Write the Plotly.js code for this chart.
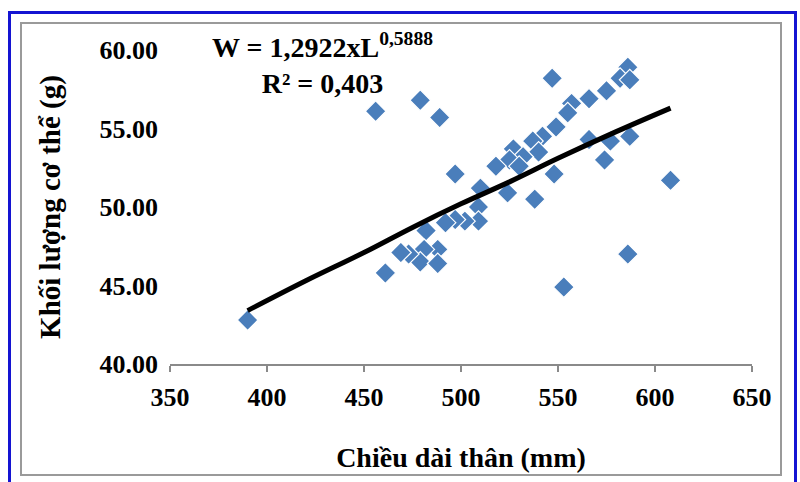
<!DOCTYPE html>
<html>
<head>
<meta charset="utf-8">
<script src="https://cdn.plot.ly/plotly-3.0.1.min.js"></script>
<style>
  html, body { margin: 0; padding: 0; background: #ffffff; }
  body { width: 800px; height: 482px; position: relative; overflow: hidden; }
  #blueframe { position: absolute; left: 8px; top: 11px; width: 789px; height: 480px; border: 3px solid #1414d2; box-sizing: border-box; z-index: 0; }
  #grayframe { position: absolute; left: 20px; top: 22px; width: 762px; height: 454px; border: 2px solid #9a9a9a; box-sizing: border-box; z-index: 0; }
  #chart { position: absolute; left: 0; top: 0; width: 800px; height: 482px; z-index: 1; }
</style>
</head>
<body>
<div id="blueframe"></div>
<div id="grayframe"></div>
<div id="chart"></div>
<script>
// Body length (mm) and body weight (g)
var lengthMm = [390, 456, 479, 489, 497, 547, 586, 582, 587, 575, 566, 557, 555, 549, 542, 537, 527, 540, 532, 525, 518, 530,
                566, 577, 587, 574, 548, 608, 538, 524, 510, 509, 509, 502, 497, 492, 482, 488, 481, 479, 488, 473, 469, 461, 586, 553];
var weightG  = [42.8, 56.1, 56.8, 55.7, 52.1, 58.2, 58.9, 58.2, 58.1, 57.4, 56.9, 56.6, 56.0, 55.1, 54.5, 54.2, 53.7, 53.5, 53.2, 53.0, 52.6, 52.6,
                54.3, 54.2, 54.5, 53.0, 52.1, 51.7, 50.5, 50.9, 51.2, 50.0, 49.1, 49.1, 49.2, 49.0, 48.5, 47.3, 47.3, 46.5, 46.4, 47.0, 47.1, 45.8, 47.0, 44.9];

// Power trend line W = 1,2922 x L^0,5888 as drawn in the picture
var trendX = [390, 420, 450, 475, 500, 525, 550, 580, 608];
var trendY = [43.4, 45.3, 47.1, 48.7, 50.2, 51.6, 53.1, 54.8, 56.3];

var xTicks = [350, 400, 450, 500, 550, 600, 650];
var yTicks = [40, 45, 50, 55, 60];

var equationText = 'W = 1,2922xL<sup>0,5888</sup><br>R² = 0,403';
var xTitle = 'Chiều dài thân (mm)';
var yTitle = 'Khối lượng cơ thể (g)';

var serif = 'Liberation Serif, Times New Roman, serif';

var traces = [
  {
    x: lengthMm, y: weightG, type: 'scatter', mode: 'markers',
    marker: { symbol: 'diamond', size: 16, color: '#4a7ebb', line: { color: '#ffffff', width: 1.2 } },
    hoverinfo: 'x+y', showlegend: false
  },
  {
    x: trendX, y: trendY, type: 'scatter', mode: 'lines',
    line: { color: '#000000', width: 5, shape: 'spline' },
    hoverinfo: 'skip', showlegend: false
  }
];

var layout = {
  width: 800, height: 482,
  margin: { l: 170, r: 48, t: 50, b: 118, pad: 0 },
  paper_bgcolor: 'rgba(0,0,0,0)',
  plot_bgcolor: 'rgba(0,0,0,0)',
  showlegend: false,
  font: { family: serif, size: 26, color: '#000000', weight: 'bold' },
  xaxis: {
    range: [350, 650], tickvals: xTicks, ticktext: xTicks.map(String),
    showgrid: false, zeroline: false,
    showline: true, linecolor: '#8a8a8a', linewidth: 1.5,
    ticks: 'outside', ticklen: 6, tickcolor: '#8a8a8a', tickwidth: 1.5,
    ticklabelstandoff: 3,
    tickfont: { family: serif, size: 26, color: '#000000', weight: 'bold' },
    title: { text: xTitle, font: { family: serif, size: 28, color: '#000000', weight: 'bold' }, standoff: 36 },
    fixedrange: true
  },
  yaxis: {
    range: [40, 60], tickvals: yTicks, ticktext: yTicks.map(function (v) { return v.toFixed(2); }),
    showgrid: false, zeroline: false, showline: false,
    ticks: '', ticklabelstandoff: 11,
    tickfont: { family: serif, size: 26, color: '#000000', weight: 'bold' },
    title: { text: yTitle, font: { family: serif, size: 29, color: '#000000', weight: 'bold' }, standoff: 30 },
    fixedrange: true
  },
  annotations: [
    {
      text: equationText, xref: 'paper', yref: 'paper',
      x: (322 - 170) / 582, y: 1 + (50 - 26) / 314, xanchor: 'center', yanchor: 'top',
      showarrow: false, align: 'center',
      font: { family: serif, size: 28, color: '#000000', weight: 'bold' }
    }
  ]
};

Plotly.newPlot('chart', traces, layout, { displayModeBar: false, staticPlot: true });
</script>
</body>
</html>
